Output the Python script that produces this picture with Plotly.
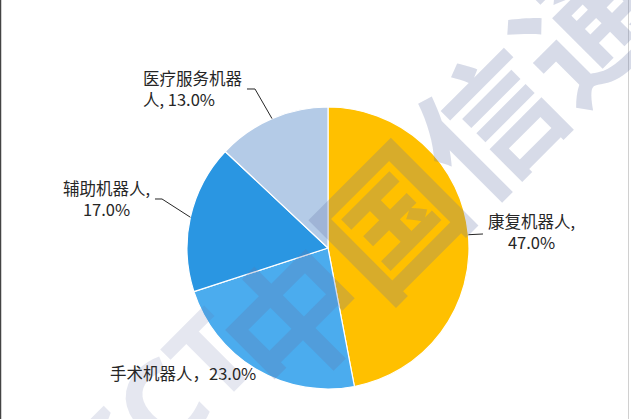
import math
import plotly.graph_objects as go

# ---- data ----
labels = ["康复机器人", "手术机器人", "辅助机器人", "医疗服务机器人"]
values = [47.0, 23.0, 17.0, 13.0]
label_texts = ["康复机器人,<br>47.0%", "手术机器人，23.0%", "辅助机器人,<br>17.0%", "医疗服务机器<br>人, 13.0%"]
colors = ["#FFC000", "#4BACEE", "#2A96E2", "#B4CBE7"]

# ---- layout geometry (pixels) ----
W, H = 631, 419
cx, cy, R = 328, 248, 141

def px2paper(px, py):
    return px / W, 1 - py / H

# label block positions (pixels) and anchors
label_pos = [(531, 232, "center"), (183, 373, "center"), (106, 198, "center"), (141, 89, "left")]
# leader lines: elbow and end (pixels), None = no leader
leader_pts = [
    [(483, 234)],
    None,
    [(162, 199), (155, 199)],
    [(255, 89), (247, 89)],
]

fig = go.Figure()
fig.add_trace(go.Pie(
    labels=labels, values=values, sort=False, direction="clockwise", rotation=0,
    marker=dict(colors=colors, line=dict(color="white", width=1.2)),
    textinfo="none", hoverinfo="label+percent", showlegend=False,
    domain=dict(x=[(cx - R) / W, (cx + R) / W], y=[1 - (cy + R) / H, 1 - (cy - R) / H]),
))

annotations = []
# faint watermark
wm_color = "rgba(100,115,165,0.26)"
wx, wy = px2paper(484, 118)
annotations.append(dict(x=wx, y=wy, xref="paper", yref="paper", text="<b>中国信通院</b>",
                        showarrow=False, textangle=-45, xanchor="center", yanchor="middle",
                        font=dict(family="Noto Sans CJK SC", size=138, color=wm_color)))
cwx, cwy = px2paper(112, 450)
annotations.append(dict(x=cwx, y=cwy, xref="paper", yref="paper", text="<b>CAICT</b>",
                        showarrow=False, textangle=-45, xanchor="center", yanchor="middle",
                        font=dict(family="Noto Sans", size=115, color="rgba(100,115,165,0.17)")))

shapes = []
total = sum(values)
cum = 0.0
for i, v in enumerate(values):
    mid = (cum + v / 2) / total
    cum += v
    th = 2 * math.pi * mid
    ex, ey = cx + R * math.sin(th), cy - R * math.cos(th)
    lx, ly, al = label_pos[i]
    ax_, ay_ = px2paper(lx, ly)
    annotations.append(dict(x=ax_, y=ay_, xref="paper", yref="paper", text=label_texts[i],
                            showarrow=False, align=al, xanchor=al, yanchor="middle",
                            font=dict(family="Noto Sans CJK SC", size=16.5, color="#262626")))
    if leader_pts[i]:
        pts = [(ex, ey)] + leader_pts[i]
        path = ""
        for j, (px, py) in enumerate(pts):
            qx, qy = px2paper(px, py)
            path += ("M" if j == 0 else " L") + f"{qx:.5f},{qy:.5f}"
        shapes.append(dict(type="path", path=path, xref="paper", yref="paper",
                           line=dict(color="#262626", width=1)))

# thin borders as in reference
shapes.append(dict(type="line", x0=0.5 / W, x1=0.5 / W, y0=0, y1=1, xref="paper", yref="paper",
                   line=dict(color="#444444", width=1.5)))
shapes.append(dict(type="line", x0=628.5 / W, x1=628.5 / W, y0=0, y1=1, xref="paper", yref="paper",
                   line=dict(color="#D0D0D0", width=1)))

fig.update_layout(
    width=W, height=H, margin=dict(l=0, r=0, t=0, b=0),
    paper_bgcolor="white", plot_bgcolor="white",
    annotations=annotations, shapes=shapes,
)
fig.write_html("out.html", config={"displayModeBar": False},
               post_script="document.body.style.margin='0px';")
